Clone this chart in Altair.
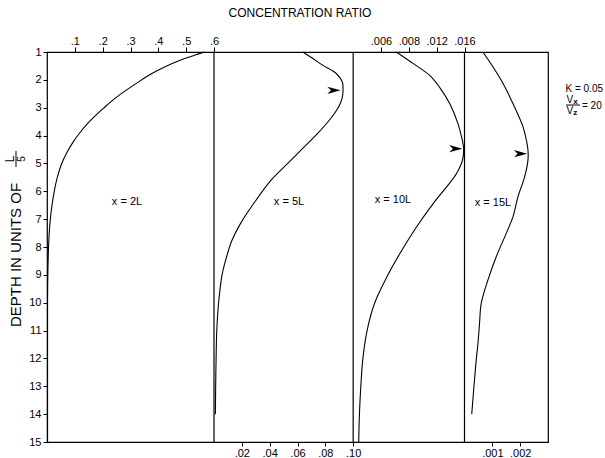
import altair as alt
import pandas as pd

FONT = "Liberation Sans"

# ---------------- data ----------------
depth_ticks = list(range(1, 16))

# x = 2L
p1_depth = [1.0, 1.1, 1.2, 1.35, 1.5, 1.78, 2.0, 2.37, 2.7, 3.0, 3.3, 3.6, 3.9, 4.2, 4.6, 5.0, 5.5,
            6.0, 6.5, 7.0, 7.5, 8.0, 8.5, 9.0, 10.0, 11.0, 12.0, 13.0, 14.0, 15.0]
p1_conc = [0.566, 0.535, 0.505, 0.465, 0.43, 0.375, 0.34, 0.285, 0.24, 0.205, 0.172, 0.143, 0.118,
           0.096, 0.072, 0.053, 0.037, 0.026, 0.018, 0.012, 0.008, 0.0055, 0.004, 0.003, 0.002,
           0.002, 0.002, 0.002, 0.002, 0.002]

# x = 5L
p2_depth = [1.0, 1.2, 1.48, 1.78, 2.07, 2.37, 2.6, 2.84, 3.1, 3.44, 3.92, 4.4, 5.0, 5.6, 6.44, 7.16,
            7.75, 8.5, 9.0, 10.0, 11.0, 12.0, 13.0, 14.0]
p2_conc = [0.0639, 0.070, 0.0783, 0.088, 0.0922, 0.0927, 0.0923, 0.0908, 0.0880, 0.0830, 0.0745,
           0.0650, 0.0530, 0.0410, 0.0285, 0.0190, 0.0130, 0.0082, 0.0058, 0.0033, 0.002, 0.0015,
           0.0012, 0.001]

# x = 10L
p3_depth = [1.0, 1.41, 1.84, 2.26, 2.85, 3.57, 4.17, 4.47, 4.89, 5.37, 5.85, 6.44, 7.28, 8.24, 9.0,
            10.0, 11.0, 12.0, 13.0, 14.0, 15.0]
p3_conc = [0.0062, 0.0086, 0.011, 0.0124, 0.01387, 0.01506, 0.01569, 0.01588, 0.0157, 0.01483, 0.0134,
           0.0115, 0.0091, 0.0067, 0.005, 0.0031, 0.002, 0.0014, 0.0011, 0.0009, 0.0008]

# x = 15L
p4_depth = [1.0, 1.53, 2.12, 2.85, 3.68, 4.2, 4.52, 4.88, 5.48, 6.2, 6.92, 7.51, 8.35, 9.19, 10.03,
            10.75, 11.5, 12.07, 13.0, 14.0]
p4_conc = [0.00066, 0.00102, 0.00138, 0.00174, 0.0021, 0.00223, 0.00228, 0.00228, 0.00216, 0.00192,
           0.00174, 0.0015, 0.00114, 0.00084, 0.0006, 0.00054, 0.00048, 0.00042, 0.00034, 0.00026]

# arrows marking maxima (panels 2..4)
arrow_conc = [0.0862, 0.01475, 0.002015]
arrow_depth = [2.375, 4.47, 4.65]

# panel scales: step per tick-unit, start unit, upper limit
panel_step = [0.1, 0.02, 0.004, 0.001]
panel_start = [0, 6, 11, 15]
panel_max = [0.6, 0.10, 0.016, 0.003]
TOTAL_UNITS = 18

# tick values / labels
p1_ticks = [0.1, 0.2, 0.3, 0.4, 0.5, 0.6]
p1_labels = [".1", ".2", ".3", ".4", ".5", ".6"]
p2_ticks = [0.02, 0.04, 0.06, 0.08, 0.10]
p2_labels = [".02", ".04", ".06", ".08", ".10"]
p3_ticks = [0.004, 0.008, 0.012, 0.016]
p3_labels = [".006", ".008", ".012", ".016"]
p4_ticks = [0.001, 0.002]
p4_labels = [".001", ".002"]

panel_names = ["x = 2L", "x = 5L", "x = 10L", "x = 15L"]

# ---------------- helpers ----------------
W, H = 501, 390


def lab_expr(vals, labs):
    return ("[" + ",".join("'%s'" % l for l in labs) + "][indexof(["
            + ",".join(repr(v) for v in vals) + "], datum.value)]")


def ydef():
    return alt.Y(
        "depth:Q",
        scale=alt.Scale(domain=[1, 15], reverse=True, nice=False, zero=False),
        axis=alt.Axis(values=depth_ticks, title=None, tickSize=4, labelPadding=2,
                      labelFontSize=11, domain=False, grid=False, format="d"),
    )


def xdef(k, orient, ticks, labels):
    lo = -panel_start[k] * panel_step[k]
    hi = (TOTAL_UNITS - panel_start[k]) * panel_step[k]
    return alt.X(
        "c:Q",
        scale=alt.Scale(domain=[lo, hi], nice=False, zero=False),
        axis=alt.Axis(orient=orient, values=ticks, labelExpr=lab_expr(ticks, labels), title=None,
                      tickSize=5 if orient == "top" else 4, labelPadding=1, labelFlush=False,
                      labelFontSize=11, domain=False, grid=False),
    )


ARROW = "M1,0 L-1,-0.55 L-0.45,0 L-1,0.55 Z"


def panel(k, depths, concs, orient, ticks, labels, arrow_idx=None):
    X = xdef(k, orient, ticks, labels)
    df = pd.DataFrame({"depth": depths, "c": concs})
    line = alt.Chart(df).mark_line(color="black", strokeWidth=1.1, interpolate="catmull-rom").encode(
        x=X, y=ydef(), order=alt.Order("depth:Q"))
    layers = [line]
    if k < 3:
        rule = alt.Chart(pd.DataFrame({"c": [panel_max[k]]})).mark_rule(
            color="black", strokeWidth=1.2).encode(x=X)
        layers.append(rule)
    if arrow_idx is not None:
        adf = pd.DataFrame({"c": [arrow_conc[arrow_idx]], "depth": [arrow_depth[arrow_idx]]})
        arr = alt.Chart(adf).mark_point(shape=ARROW, filled=True, color="black", opacity=1,
                                        size=175, strokeWidth=0).encode(x=X, y=ydef())
        layers.append(arr)
    return alt.layer(*layers)


def txt(s, x, y, size=11, angle=0, align="center", baseline="middle", weight="normal"):
    return alt.Chart(alt.Data(values=[{}])).mark_text(
        text=s, font=FONT, fontSize=size, angle=angle, align=align, baseline=baseline,
        color="black", fontWeight=weight).encode(x=alt.value(x), y=alt.value(y))


def seg(x1, y1, x2, y2, w=1.0):
    return alt.Chart(alt.Data(values=[{}])).mark_rule(color="black", strokeWidth=w).encode(
        x=alt.value(x1), y=alt.value(y1), x2=alt.value(x2), y2=alt.value(y2))


p1 = panel(0, p1_depth, p1_conc, "top", p1_ticks, p1_labels)
p2 = panel(1, p2_depth, p2_conc, "bottom", p2_ticks, p2_labels, 0)
p3 = panel(2, p3_depth, p3_conc, "top", p3_ticks, p3_labels, 1)
p4 = panel(3, p4_depth, p4_conc, "bottom", p4_ticks, p4_labels, 2)

annos = [
    txt("CONCENTRATION RATIO", 253, -39.5, size=12),
    txt(panel_names[0], 80, 150),
    txt(panel_names[1], 242, 150),
    txt(panel_names[2], 346, 148),
    txt(panel_names[3], 446, 151),
    # y title
    txt("DEPTH IN UNITS OF", -31, 203, size=15, angle=270),
    txt("L", -37, 107, size=12, angle=270),
    txt("5", -25.5, 107, size=10, angle=270),
    seg(-31, 99, -31, 115, 1.0),
    # parameters
    txt("K = 0.05", 518.5, 37, size=10, align="left"),
    txt("V", 519.5, 47.5, size=10, align="left"),
    txt("x", 526.2, 50, size=8, align="left", weight="bold"),
    seg(519, 53, 533, 53, 1.0),
    txt("V", 519.5, 58.5, size=10, align="left"),
    txt("z", 526.2, 61, size=8, align="left", weight="bold"),
    txt("= 20", 535, 53.5, size=10, align="left"),
]

chart = alt.layer(p1, p2, p3, p4, *annos).resolve_scale(x="independent").properties(
    width=W, height=H,
    autosize=alt.AutoSizeParams(type="none"),
    padding={"left": 47, "top": 52, "right": 57, "bottom": 16},
    background="white",
).configure_view(stroke="black", strokeWidth=1.2).configure_axis(
    labelFont=FONT, labelColor="black", tickColor="black", tickWidth=1)

chart.save("out.html", embed_options={"renderer": "svg", "actions": False})
